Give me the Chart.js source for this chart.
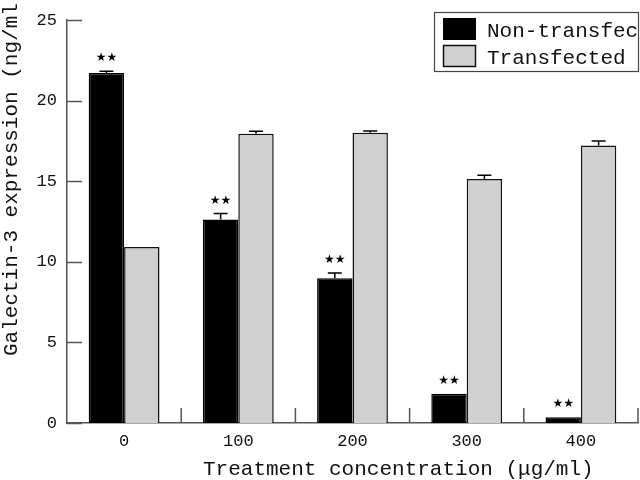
<!DOCTYPE html>
<html>
<head>
<meta charset="utf-8">
<script src="https://cdn.jsdelivr.net/npm/chart.js@4/dist/chart.umd.min.js"></script>
<style>
  html, body { margin: 0; padding: 0; background: #fff; overflow: hidden; }
  #wrap { width: 640px; height: 480px; }
</style>
</head>
<body>
<div id="wrap"><canvas id="c" width="640" height="480"></canvas></div>
<script>
// ---- data ----
const categories = ['0', '100', '200', '300', '400'];
const seriesNames = ['Non-transfected', 'Transfected'];
const nonTransfected = [21.73, 12.63, 8.98, 1.82, 0.36];
const nonTransfectedErr = [0.1, 0.37, 0.33, 0, 0];
const transfected = [10.93, 17.95, 18.02, 15.15, 17.22];
const transfectedErr = [0, 0.15, 0.1, 0.22, 0.28];
const significance = ['★★', '★★', '★★', '★★', '★★'];
const yTickValues = [0, 5, 10, 15, 20, 25];
const xTitle = 'Treatment concentration (μg/ml)';
const yTitle = 'Galectin-3 expression (ng/ml)';

const MONO = '"Liberation Mono", "Courier New", monospace';
const AXIS_COLOR = '#555';
const GRAY = '#d0d0d0';

const overlay = {
  id: 'overlay',
  afterDatasetsDraw(chart) {
    const ctx = chart.ctx;
    const y = chart.scales.y;
    const errs = [nonTransfectedErr, transfectedErr];
    const vals = [nonTransfected, transfected];
    ctx.save();
    ctx.strokeStyle = '#000';
    ctx.lineWidth = 1.5;
    for (let d = 0; d < 2; d++) {
      const meta = chart.getDatasetMeta(d);
      meta.data.forEach((el, i) => {
        const e = errs[d][i];
        if (!e) return;
        const top = y.getPixelForValue(vals[d][i] + e);
        ctx.beginPath();
        ctx.moveTo(el.x, el.y);
        ctx.lineTo(el.x, top);
        ctx.moveTo(el.x - 7, top);
        ctx.lineTo(el.x + 7, top);
        ctx.stroke();
      });
    }
    // significance stars above non-transfected bars
    ctx.fillStyle = '#000';
    ctx.font = '12px "DejaVu Sans"';
    ctx.textAlign = 'center';
    ctx.textBaseline = 'middle';
    chart.getDatasetMeta(0).data.forEach((el, i) => {
      const top = y.getPixelForValue(nonTransfected[i] + nonTransfectedErr[i]);
      ctx.fillText(significance[i], el.x, top - 13);
    });
    ctx.restore();
  },
  afterDraw(chart) {
    const ctx = chart.ctx;
    const a = chart.chartArea;
    const y = chart.scales.y;
    ctx.save();
    ctx.strokeStyle = AXIS_COLOR;
    ctx.lineWidth = 1.5;
    // inward y ticks
    yTickValues.forEach(v => {
      const py = Math.round(y.getPixelForValue(v)) + 0.5;
      ctx.beginPath();
      ctx.moveTo(a.left, py);
      ctx.lineTo(a.left + 15, py);
      ctx.stroke();
    });
    // inward category separators
    const n = categories.length;
    const w = (a.right - a.left) / n;
    for (let i = 1; i <= n; i++) {
      const px = a.left + i * w;
      ctx.beginPath();
      ctx.moveTo(px, a.bottom);
      ctx.lineTo(px, a.bottom - 15);
      ctx.stroke();
    }
    // axis titles
    ctx.fillStyle = '#111';
    ctx.font = '21px ' + MONO;
    ctx.textAlign = 'left';
    ctx.textBaseline = 'alphabetic';
    ctx.fillText(xTitle, 203, 475);
    ctx.save();
    ctx.translate(17, 356);
    ctx.rotate(-Math.PI / 2);
    ctx.fillText(yTitle, 0, 0);
    ctx.restore();
    // legend
    const lx = 434, ly = 12, lw = 205, lh = 60;
    ctx.fillStyle = '#fff';
    ctx.fillRect(lx, ly, lw, lh);
    ctx.fillStyle = '#000';
    ctx.fillRect(443, 18, 33, 22);
    ctx.fillStyle = GRAY;
    ctx.fillRect(443, 45, 33, 22);
    ctx.strokeStyle = '#111';
    ctx.lineWidth = 1.5;
    ctx.strokeRect(443.5, 45.5, 32, 21);
    ctx.fillStyle = '#111';
    ctx.textBaseline = 'middle';
    ctx.fillText(seriesNames[0], 487, 31);
    ctx.fillText(seriesNames[1], 487, 58);
    ctx.strokeStyle = '#444';
    ctx.lineWidth = 1.2;
    ctx.strokeRect(lx + 0.5, ly + 0.5, lw - 1, lh - 1);
    ctx.restore();
  }
};

new Chart(document.getElementById('c'), {
  type: 'bar',
  data: {
    labels: categories,
    datasets: [
      { label: seriesNames[0], data: nonTransfected, backgroundColor: '#000', borderColor: '#000', borderWidth: 1.5 },
      { label: seriesNames[1], data: transfected, backgroundColor: GRAY, borderColor: '#111', borderWidth: 1.5 }
    ]
  },
  options: {
    responsive: false,
    animation: false,
    layout: { padding: { top: 12, right: 2, left: 0, bottom: 0 } },
    datasets: { bar: { categoryPercentage: 0.62, barPercentage: 1.0 } },
    plugins: { legend: { display: false }, tooltip: { enabled: false } },
    scales: {
      x: {
        grid: { display: false, drawTicks: false },
        border: { display: true, color: AXIS_COLOR, width: 1.5 },
        ticks: { color: '#111', font: { family: MONO, size: 17 }, padding: 8 },
        afterFit(s) { s.height = 57; }
      },
      y: {
        min: 0, max: 25,
        grid: { display: false, drawTicks: false },
        border: { display: true, color: AXIS_COLOR, width: 1.5 },
        ticks: { stepSize: 5, color: '#111', font: { family: MONO, size: 17 }, padding: 10 },
        afterFit(s) { s.width = 67; }
      }
    }
  },
  plugins: [overlay]
});
</script>
</body>
</html>
